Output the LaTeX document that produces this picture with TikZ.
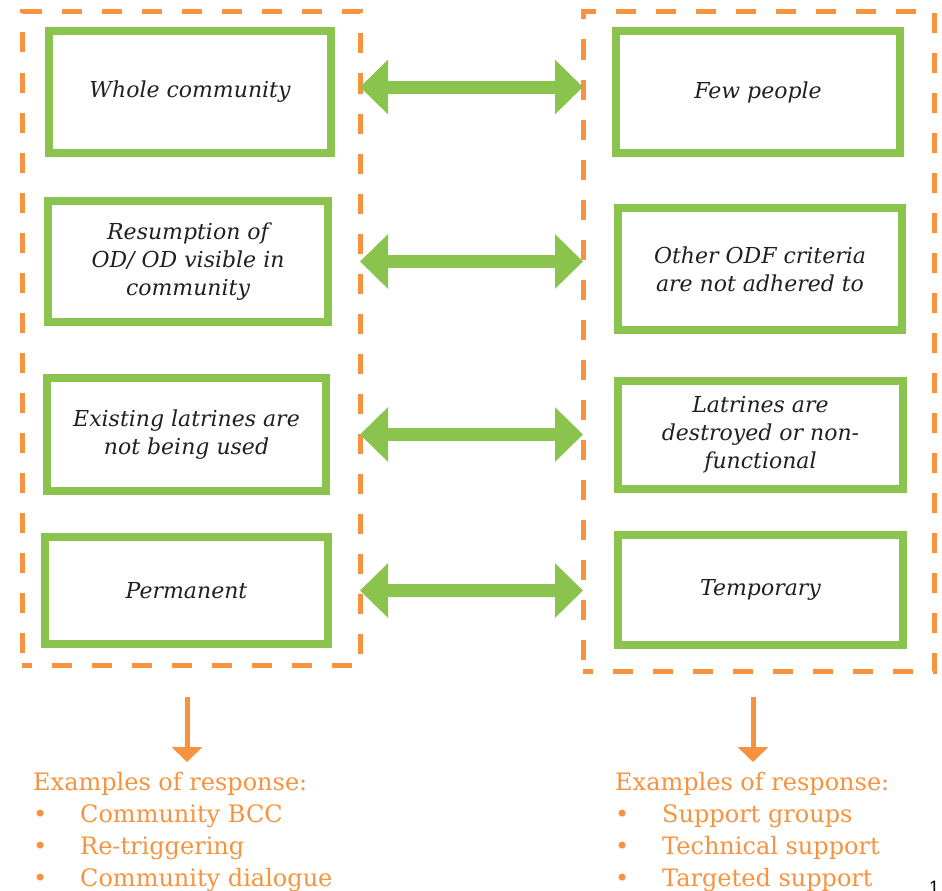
\documentclass[tikz,border=0pt]{standalone}
\usepackage{fontspec}
\setmainfont{DejaVu Serif}
\newfontfamily\pgfont{Liberation Sans}
\usetikzlibrary{arrows.meta,positioning}
\definecolor{grn}{HTML}{8BC34F}
\definecolor{orng}{HTML}{F7933E}
\definecolor{ink}{HTML}{231F20}

\begin{document}
\begin{tikzpicture}[x=1pt,y=-1pt]
\tikzstyle{bx}=[draw=grn,line width=8pt,align=center,text=ink,font=\fontsize{22}{28}\selectfont\itshape]
\tikzstyle{frame}=[draw=orng,line width=5pt,dash pattern=on 20pt off 20pt,dash phase=10pt,outer sep=0pt]
\tikzstyle{dbl}=[grn,line width=13pt,{Triangle[length=28pt,width=53pt]}-{Triangle[length=28pt,width=53pt]}]
\tikzstyle{down}=[orng,line width=5pt,-{Triangle[length=15pt,width=30pt]}]
\tikzstyle{resp}=[text=orng,font=\fontsize{24}{32}\selectfont,inner sep=0pt,anchor=north west]
\useasboundingbox (0,0) rectangle (942,891);

% dashed groups
\node[frame,minimum width=338pt,minimum height=653.5pt] (left) at (191,338.75) {};
\node[frame,minimum width=351.5pt,minimum height=659.5pt] (right) at (758.75,341.75) {};

% left column
\node[bx,minimum width=282pt,minimum height=122pt] (l1) at (190,92) {Whole community};
\node[bx,minimum width=280pt,minimum height=121pt] (l2) at (188,261.5) {Resumption of\\OD/ OD visible in\\community};
\node[bx,minimum width=279pt,minimum height=113pt] (l3) at (186.5,434.5) {Existing latrines are\\not being used};
\node[bx,minimum width=283pt,minimum height=107pt] (l4) at (186.5,590.5) {Permanent};

% right column
\node[bx,minimum width=284pt,minimum height=122pt] (r1) at (758,92) {Few people};
\node[bx,minimum width=284pt,minimum height=122pt] (r2) at (760,269) {Other ODF criteria\\are not adhered to};
\node[bx,minimum width=285pt,minimum height=108pt] (r3) at (760.5,435) {Latrines are\\destroyed or non-\\functional};
\node[bx,minimum width=285pt,minimum height=110pt] (r4) at (760.5,590) {Temporary};

% links
\draw[dbl] ([yshift=5pt]l1 -| left.east) -- ([yshift=5pt]l1 -| right.west);
\draw[dbl] (l2 -| left.east) -- (l2 -| right.west);
\draw[dbl] (l3 -| left.east) -- (l3 -| right.west);
\draw[dbl] (l4 -| left.east) -- (l4 -| right.west);

% responses
\coordinate (ls) at (187,697);
\coordinate (le) at (187,762);
\coordinate (rs) at (753,697);
\coordinate (re) at (753,762);
\draw[down] (ls) -- (le);
\draw[down] (rs) -- (re);
\node[resp] (lresp) at (33,768) {\begin{tabular}{@{}p{47pt}@{}l@{}}
\multicolumn{2}{@{}l@{}}{Examples of response:}\\
\textbullet & Community BCC\\
\textbullet & Re-triggering\\
\textbullet & Community dialogue
\end{tabular}};
\node[resp] (rresp) at (615,768) {\begin{tabular}{@{}p{47pt}@{}l@{}}
\multicolumn{2}{@{}l@{}}{Examples of response:}\\
\textbullet & Support groups\\
\textbullet & Technical support\\
\textbullet & Targeted support
\end{tabular}};

\node[font=\fontsize{18}{18}\pgfont,anchor=north,inner sep=0pt] (pg) at (934,881) {1};
\end{tikzpicture}
\end{document}
